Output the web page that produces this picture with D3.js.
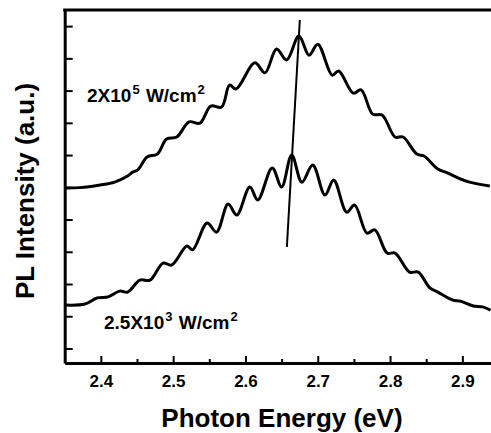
<!DOCTYPE html>
<html>
<head>
<meta charset="utf-8">
<script src="https://cdn.jsdelivr.net/npm/d3@7"></script>
<style>
  html, body { margin: 0; padding: 0; background: #fff; }
  svg { display: block; font-family: "Liberation Sans", Arial, sans-serif; font-weight: bold; }
</style>
</head>
<body>
<div id="chart"></div>
<script>
// ---- data ----
const xTicks = [2.4, 2.5, 2.6, 2.7, 2.8, 2.9];
const xMinorTicks = [2.45, 2.55, 2.65, 2.75, 2.85];
const yTicks = [0, 1, 2, 3, 4, 5, 6, 7, 8, 9, 10];

// high excitation, 2x10^5 W/cm^2
const highEnergy = [2.349, 2.371, 2.399, 2.419, 2.437, 2.444, 2.451, 2.464, 2.478, 2.491, 2.505, 2.522, 2.537,
  2.552, 2.567, 2.578, 2.587, 2.613, 2.627, 2.643, 2.657, 2.674, 2.688, 2.700, 2.720, 2.729, 2.749,
  2.760, 2.776, 2.789, 2.807, 2.818, 2.837, 2.847, 2.866, 2.880, 2.897, 2.910, 2.938];
const highPL = [4.98, 4.99, 5.07, 5.16, 5.35, 5.47, 5.54, 5.94, 6.03, 6.50, 6.56, 7.03, 6.99,
  7.52, 7.49, 8.17, 8.05, 8.86, 8.55, 9.29, 8.95, 9.69, 9.10, 9.44, 8.48, 8.61, 7.92,
  8.02, 7.27, 7.24, 6.56, 6.56, 6.03, 5.97, 5.57, 5.44, 5.26, 5.16, 5.04];

// low excitation, 2.5x10^3 W/cm^2
const lowEnergy = [2.349, 2.378, 2.395, 2.410, 2.426, 2.437, 2.454, 2.468, 2.486, 2.498, 2.519, 2.527, 2.547,
  2.560, 2.576, 2.588, 2.606, 2.617, 2.637, 2.650, 2.664, 2.678, 2.693, 2.710, 2.722, 2.740, 2.751,
  2.768, 2.779, 2.796, 2.807, 2.827, 2.839, 2.855, 2.866, 2.887, 2.897, 2.915, 2.928, 2.939];
const lowPL = [1.35, 1.38, 1.57, 1.60, 1.78, 1.75, 2.12, 2.12, 2.65, 2.59, 3.18, 3.06, 3.89,
  3.61, 4.48, 4.14, 5.01, 4.61, 5.60, 5.01, 6.00, 5.16, 5.69, 4.76, 5.23, 4.23, 4.45,
  3.58, 3.68, 2.96, 2.96, 2.37, 2.37, 1.88, 1.75, 1.50, 1.47, 1.32, 1.29, 1.19];

// peak shift guide line
const peakEnergy = [2.6752, 2.6573];
const peakPL = [10.19, 3.15];

// ---- layout ----
const width = 491, height = 433;
const plotLeft = 64.7, plotTop = 10, plotBottom = 363;

const svg = d3.select("#chart").append("svg")
  .attr("width", width)
  .attr("height", height);

const x = d3.scaleLinear().domain([2.35, 2.95]).range([plotLeft, plotLeft + 0.6 * 723]);
const y = d3.scaleLinear().domain([-0.45, 10.5]).range([plotBottom, plotTop]);

// ---- curves ----
const line = d3.line()
  .x(d => x(d[0]))
  .y(d => y(d[1]))
  .curve(d3.curveCatmullRom.alpha(0.5));

svg.append("path")
  .datum(d3.zip(highEnergy, highPL))
  .attr("d", line)
  .attr("fill", "none")
  .attr("stroke", "#000")
  .attr("stroke-width", 3)
  .attr("stroke-linejoin", "round");

svg.append("path")
  .datum(d3.zip(lowEnergy, lowPL))
  .attr("d", line)
  .attr("fill", "none")
  .attr("stroke", "#000")
  .attr("stroke-width", 3)
  .attr("stroke-linejoin", "round");

svg.append("path")
  .datum(d3.zip(peakEnergy, peakPL))
  .attr("d", d3.line().x(d => x(d[0])).y(d => y(d[1])))
  .attr("fill", "none")
  .attr("stroke", "#000")
  .attr("stroke-width", 2);

// ---- axes ----
const xAxis = svg.append("g")
  .attr("transform", "translate(0," + plotBottom + ")")
  .call(d3.axisBottom(x).tickValues(xTicks).tickFormat(d3.format(".1f")).tickSizeInner(-7).tickSizeOuter(0).tickPadding(12));

xAxis.select(".domain").attr("stroke-width", 3);
xAxis.selectAll(".tick line").attr("stroke-width", 2);
xAxis.selectAll(".tick text").attr("font-size", 17).attr("dy", "0.71em").attr("fill", "#000")
  .attr("font-family", "Liberation Sans, Arial, sans-serif").attr("font-weight", "bold");

svg.append("g")
  .attr("transform", "translate(0," + plotBottom + ")")
  .call(d3.axisBottom(x).tickValues(xMinorTicks).tickFormat("").tickSizeInner(-4).tickSizeOuter(0))
  .call(g => g.select(".domain").remove())
  .selectAll(".tick line").attr("stroke-width", 2);

const yAxis = svg.append("g")
  .attr("transform", "translate(" + plotLeft + ",0)")
  .call(d3.axisLeft(y).tickValues(yTicks).tickFormat("").tickSizeInner(-8).tickSizeOuter(0));

yAxis.select(".domain").attr("stroke-width", 3);
yAxis.selectAll(".tick line").attr("stroke-width", 2);

// top frame line
svg.append("line")
  .attr("x1", plotLeft - 1.5).attr("x2", width)
  .attr("y1", y(10.5)).attr("y2", y(10.5))
  .attr("stroke", "#000")
  .attr("stroke-width", 3);

// ---- axis titles ----
svg.append("text")
  .attr("x", x(2.6505))
  .attr("y", 427)
  .attr("text-anchor", "middle")
  .attr("font-size", 26)
  .text("Photon Energy (eV)");

svg.append("text")
  .attr("transform", "translate(34," + 191 + ") rotate(-90)")
  .attr("text-anchor", "middle")
  .attr("font-size", 26)
  .text("PL Intensity (a.u.)");

// ---- series labels ----
function powerLabel(px, py, mant, exp) {
  const t = svg.append("text")
    .attr("x", px)
    .attr("y", py)
    .attr("font-size", 19);
  t.append("tspan").text(mant + "X10");
  t.append("tspan").attr("font-size", 13).attr("dy", -8).attr("dx", 1).text(exp);
  t.append("tspan").attr("dy", 8).attr("dx", 1).text(" W/cm");
  t.append("tspan").attr("font-size", 13).attr("dy", -8).attr("dx", 1).text("2");
}

powerLabel(87, 102, "2", "5");
powerLabel(104, 329, "2.5", "3");
</script>
</body>
</html>
